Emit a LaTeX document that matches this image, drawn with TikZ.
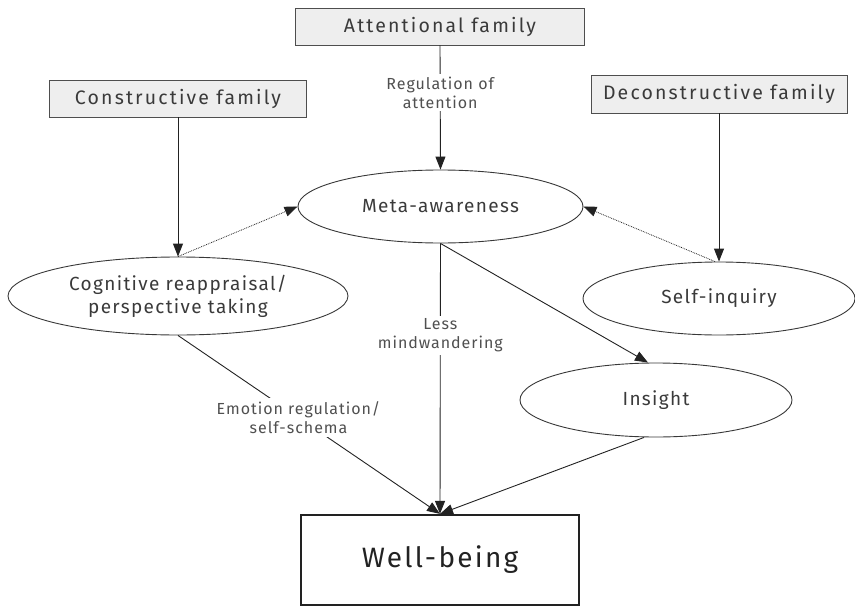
\documentclass[tikz,border=0pt]{standalone}
\usepackage{fontspec}
\setmainfont{Fira Sans}
\usetikzlibrary{shapes.geometric,arrows.meta}
\definecolor{txt}{HTML}{3A3A3A}
\definecolor{lbltxt}{HTML}{505050}
\definecolor{ln}{HTML}{222222}
\definecolor{boxfill}{HTML}{EEEEEE}
\tikzset{
  family/.style={draw=ln!80, fill=boxfill, line width=0.9pt, text=txt,
    font=\fontsize{19.5}{23}\selectfont\addfontfeature{LetterSpace=11}, minimum height=37pt, inner sep=0pt},
  oval/.style={ellipse, draw=ln!90, line width=0.9pt, text=txt, align=center,
    font=\fontsize{19}{23}\selectfont\addfontfeature{LetterSpace=7}, inner sep=0pt},
  lbl/.style={fill=white, text=lbltxt, align=center,
    font=\fontsize{16}{19}\selectfont\addfontfeature{LetterSpace=6}, inner sep=3pt},
  conn/.style={draw=ln, line width=0.9pt, -{Triangle[length=13pt,width=10pt]}},
  dotconn/.style={draw=ln, line width=0.8pt, densely dotted, -{Triangle[length=13pt,width=10pt]}},
}
\begin{document}
\begin{tikzpicture}[x=1pt,y=-1pt]
\useasboundingbox (0,0) rectangle (855,608);
% family boxes
\node[family, minimum width=289pt] (att) at (440,26.5) {Attentional family};
\node[family, minimum width=257pt] (con) at (178,98.5) {Constructive family};
\node[family, minimum width=256pt, minimum height=38pt] (dec) at (719,94) {Deconstructive family};
% ellipses
\node[oval, minimum width=285pt, minimum height=73pt] (meta) at (440.5,206.5) {Meta-awareness};
\node[oval, minimum width=340pt, minimum height=78pt] (cog) at (178,296) {Cognitive reappraisal/\\perspective taking};
\node[oval, minimum width=272pt, minimum height=73pt] (self) at (719,298.5) {Self-inquiry};
\node[oval, minimum width=272pt, minimum height=74pt] (ins) at (656,400) {Insight};
% well-being
\node[draw=ln, line width=2.2pt, minimum width=278pt, minimum height=90pt,
  font=\fontsize{28}{32}\selectfont\addfontfeature{LetterSpace=8}, text=ln, inner sep=0pt] (wb) at (440,560) {Well-being};
% connectors
\draw[conn] (att.south) -- node[lbl, pos=0.38] {Regulation of\\attention} (meta.north);
\draw[conn] (con.south) -- (cog.north);
\draw[conn] (dec.south) -- (self.north);
\draw[dotconn] (cog.north) -- (meta.west);
\draw[dotconn] ([xshift=-4pt]self.north) -- (meta.east);
\draw[conn] (meta.south) -- ([xshift=-8pt]ins.north);
\draw[conn] (meta.south) -- node[lbl, pos=0.34] {Less\\mindwandering} (wb.north);
\draw[conn] (cog.south) -- node[lbl, pos=0.46] {Emotion regulation/\\self-schema} (wb.north);
\draw[conn] ([xshift=-12pt]ins.south) -- (wb.north);
\end{tikzpicture}
\end{document}
